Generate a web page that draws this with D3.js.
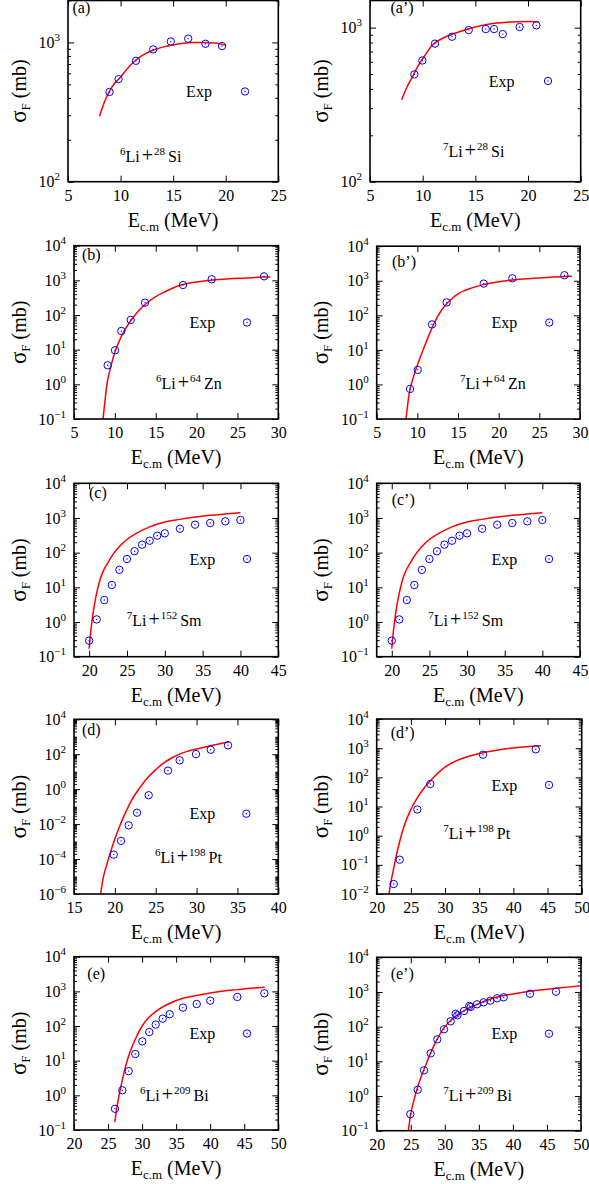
<!DOCTYPE html>
<html><head><meta charset="utf-8">
<script src="https://cdn.jsdelivr.net/npm/d3@7"></script>
<style>
body{margin:0;background:#fff}
svg{display:block}
text{font-family:"Liberation Serif","Times New Roman",serif;fill:#000}
</style>
</head><body>
<svg id="chart" width="589" height="1184"></svg>
<script>
// ---------- DATA ----------
// (a) 6Li + 28Si
const xTicks_a = [5, 10, 15, 20, 25];
const yExp_a = [2, 3];
const expE_a = [8.95, 9.81, 11.46, 13.1, 14.78, 16.43, 18.07, 19.65];
const expS_a = [441, 545, 738, 891, 1016, 1064, 978, 942];
const calE_a = [8, 8.5, 9, 9.5, 10, 10.5, 11, 12, 13, 14, 15, 16, 17, 18, 19, 20];
const calS_a = [295, 380, 455, 515, 565, 630, 695, 800, 875, 925, 958, 985, 997, 1000, 990, 955];

// (a') 7Li + 28Si
const xTicks_a2 = [5, 10, 15, 20, 25];
const yExp_a2 = [2, 3];
const expE_a2 = [9.21, 9.97, 11.17, 12.79, 14.37, 15.99, 16.78, 17.6, 19.2, 20.79];
const expS_a2 = [497, 612, 787, 873, 964, 979, 979, 908, 1009, 1035];
const calE_a2 = [8, 8.5, 9, 9.5, 10, 11, 12, 13, 14, 15, 16, 17, 18, 19, 20, 21];
const calS_a2 = [340, 410, 475, 555, 628, 780, 860, 915, 965, 1010, 1045, 1070, 1085, 1093, 1095, 1092];

// (b) 6Li + 64Zn
const xTicks_b = [5, 10, 15, 20, 25, 30];
const yExp_b = [-1, 0, 1, 2, 3, 4];
const expE_b = [9.12, 10.02, 10.79, 11.94, 13.69, 18.34, 21.85, 28.26];
const expS_b = [3.55, 9.6, 34.7, 72, 227, 735, 1072, 1306];
const calE_b = [8.55, 8.8, 9, 9.5, 10, 10.5, 11, 12, 13, 14, 15, 16, 18, 20, 22, 24, 26, 28, 29];
const calS_b = [0.1, 0.35, 0.9, 3.2, 8.5, 17, 30, 72, 140, 230, 340, 450, 720, 900, 1030, 1110, 1170, 1240, 1260];

// (b') 7Li + 64Zn
const xTicks_b2 = [5, 10, 15, 20, 25, 30];
const yExp_b2 = [-1, 0, 1, 2, 3, 4];
const expE_b2 = [9.1, 10.04, 11.8, 13.6, 18.16, 21.68, 28.08];
const expS_b2 = [0.74, 2.64, 54.6, 237, 828, 1178, 1445];
const calE_b2 = [8.6, 8.8, 9, 9.5, 10, 10.5, 11, 12, 13, 14, 15, 16, 18, 20, 22, 24, 26, 28, 29];
const calS_b2 = [0.1, 0.25, 0.55, 1.6, 3.6, 7.5, 15, 55, 145, 270, 420, 540, 760, 930, 1070, 1160, 1250, 1330, 1360];

// (c) 7Li + 152Sm
const xTicks_c = [20, 25, 30, 35, 40, 45];
const yExp_c = [-1, 0, 1, 2, 3, 4];
const expE_c = [20, 21, 22, 23, 24, 25, 26, 27, 28, 29, 30, 32, 34, 36, 38, 40];
const expS_c = [0.29, 1.19, 4.3, 11.7, 32, 65.6, 110, 170, 221, 309, 361, 490, 641, 716, 800, 875];
const calE_c = [20, 20.25, 20.5, 20.75, 21, 21.25, 21.5, 21.75, 22, 22.5, 23, 24, 25, 26, 28, 30, 32, 34, 36, 38, 40];
const calS_c = [0.17, 0.63, 1.66, 3.6, 6.9, 11.7, 18.2, 25.7, 33.9, 52.5, 79.4, 151, 240, 335, 556, 767, 912, 1060, 1200, 1300, 1410];

// (c') 7Li + 152Sm
const xTicks_c2 = [20, 25, 30, 35, 40, 45];
const yExp_c2 = [-1, 0, 1, 2, 3, 4];
const expE_c2 = [20, 21, 22, 23, 24, 25, 26, 27, 28, 29, 30, 32, 34, 36, 38, 40];
const expS_c2 = [0.29, 1.19, 4.3, 11.7, 32, 65.6, 110, 170, 221, 309, 361, 490, 641, 716, 800, 875];
const calE_c2 = [20, 20.25, 20.5, 20.75, 21, 21.25, 21.5, 21.75, 22, 22.5, 23, 24, 25, 26, 28, 30, 32, 34, 36, 38, 40];
const calS_c2 = [0.17, 0.63, 1.66, 3.6, 6.9, 11.7, 18.2, 25.7, 33.9, 52.5, 79.4, 151, 240, 335, 556, 767, 912, 1060, 1200, 1300, 1410];

// (d) 6Li + 198Pt
const xTicks_d = [15, 20, 25, 30, 35, 40];
const yExp_d = [-6, -4, -2, 0, 2, 4];
const expE_d = [19.86, 20.75, 21.69, 22.71, 24.14, 26.5, 27.93, 29.93, 31.73, 33.85];
const expS_d = [1.8e-4, 1.1e-3, 8.5e-3, 0.045, 0.45, 11.5, 45, 102, 182, 324];
const calE_d = [18.27, 18.5, 19, 19.5, 20, 20.5, 21, 22, 23, 24, 25, 26, 27, 28, 30, 32, 34];
const calS_d = [1e-6, 5.6e-6, 4.5e-5, 2.8e-4, 1.4e-3, 6.0e-3, 0.022, 0.21, 1.12, 4.5, 13, 32, 63, 105, 200, 330, 525];

// (d') 7Li + 198Pt
const xTicks_d2 = [20, 25, 30, 35, 40, 45, 50];
const yExp_d2 = [-2, -1, 0, 1, 2, 3, 4];
const expE_d2 = [22.49, 23.37, 25.95, 27.85, 35.56, 43.28];
const expS_d2 = [0.022, 0.15, 7.9, 59, 598, 912];
const calE_d2 = [21.8, 22, 22.5, 23, 23.5, 24, 25, 26, 27, 28, 30, 32, 34, 36, 38, 40, 42, 44];
const calS_d2 = [0.01, 0.02, 0.079, 0.28, 0.83, 2.1, 7.9, 21, 45, 83, 224, 400, 575, 740, 890, 1020, 1120, 1200];

// (e) 6Li + 209Bi
const xTicks_e = [20, 25, 30, 35, 40, 45, 50];
const yExp_e = [-1, 0, 1, 2, 3, 4];
const expE_e = [26.02, 27.1, 28.03, 29.0, 30.03, 31.06, 32.0, 33.02, 34.05, 36.0, 38.02, 40.01, 43.98, 47.95];
const expS_e = [0.41, 1.4, 5.0, 15.6, 36, 67, 110, 163, 219, 340, 432, 540, 689, 880];
const calE_e = [26, 26.3, 26.6, 27, 27.5, 28, 29, 30, 31, 32, 34, 36, 38, 40, 42, 44, 46, 48];
const calS_e = [0.17, 0.45, 0.95, 2.3, 6.0, 13.2, 41.7, 100, 178, 263, 447, 631, 759, 891, 1023, 1122, 1230, 1318];

// (e') 7Li + 209Bi
const xTicks_e2 = [20, 25, 30, 35, 40, 45, 50];
const yExp_e2 = [-1, 0, 1, 2, 3, 4];
const expE_e2 = [24.94, 26.02, 26.95, 27.93, 28.9, 29.88, 30.86, 31.6, 31.84, 32.82, 33.6, 33.8, 34.73, 35.71, 36.69, 37.67, 38.65, 42.51, 46.33];
const expS_e2 = [0.30, 1.52, 5.5, 17, 43, 84, 143, 235, 212, 283, 395, 369, 441, 504, 562, 658, 703, 892, 1023];
const calE_e2 = [24.64, 25, 25.5, 26, 26.5, 27, 28, 29, 30, 31, 32, 33, 34, 35, 36, 38, 40, 42, 44, 46, 48, 50];
const calS_e2 = [0.1, 0.3, 0.8, 1.8, 3.5, 6.2, 19, 48, 100, 160, 230, 300, 380, 460, 560, 740, 880, 1020, 1140, 1250, 1380, 1515];

// ---------- PANELS ----------
const panels = [
  {tag:"(a)",  proj:"6", tgt:"28",  el:"Si", xDom:[5,25],  yDom:[100,2000], xT:xTicks_a,  yE:yExp_a,  eE:expE_a,  eS:expS_a,  cE:calE_a,  cS:calS_a},
  {tag:"(a’)", proj:"7", tgt:"28",  el:"Si", xDom:[5,25],  yDom:[100,1500], xT:xTicks_a2, yE:yExp_a2, eE:expE_a2, eS:expS_a2, cE:calE_a2, cS:calS_a2},
  {tag:"(b)",  proj:"6", tgt:"64",  el:"Zn", xDom:[5,30],  yDom:[0.1,1e4],  xT:xTicks_b,  yE:yExp_b,  eE:expE_b,  eS:expS_b,  cE:calE_b,  cS:calS_b},
  {tag:"(b’)", proj:"7", tgt:"64",  el:"Zn", xDom:[5,30],  yDom:[0.1,1e4],  xT:xTicks_b2, yE:yExp_b2, eE:expE_b2, eS:expS_b2, cE:calE_b2, cS:calS_b2},
  {tag:"(c)",  proj:"7", tgt:"152", el:"Sm", xDom:[18,45], yDom:[0.1,1e4],  xT:xTicks_c,  yE:yExp_c,  eE:expE_c,  eS:expS_c,  cE:calE_c,  cS:calS_c},
  {tag:"(c’)", proj:"7", tgt:"152", el:"Sm", xDom:[18,45], yDom:[0.1,1e4],  xT:xTicks_c2, yE:yExp_c2, eE:expE_c2, eS:expS_c2, cE:calE_c2, cS:calS_c2},
  {tag:"(d)",  proj:"6", tgt:"198", el:"Pt", xDom:[15,40], yDom:[1e-6,1e4], xT:xTicks_d,  yE:yExp_d,  eE:expE_d,  eS:expS_d,  cE:calE_d,  cS:calS_d},
  {tag:"(d’)", proj:"7", tgt:"198", el:"Pt", xDom:[20,50], yDom:[1e-2,1e4], xT:xTicks_d2, yE:yExp_d2, eE:expE_d2, eS:expS_d2, cE:calE_d2, cS:calS_d2},
  {tag:"(e)",  proj:"6", tgt:"209", el:"Bi", xDom:[20,50], yDom:[0.1,1e4],  xT:xTicks_e,  yE:yExp_e,  eE:expE_e,  eS:expS_e,  cE:calE_e,  cS:calS_e},
  {tag:"(e’)", proj:"7", tgt:"209", el:"Bi", xDom:[20,50], yDom:[0.1,1e4],  xT:xTicks_e2, yE:yExp_e2, eE:expE_e2, eS:expS_e2, cE:calE_e2, cS:calS_e2}
];

// layout (pixels)
const layout = [
  {l:68,    r:278.3, t:0.5,   b:181.7,  tag:[72.5,13],    lab:[120,162],     key:[199,245,91.5],     yl:26},
  {l:370,   r:580.7, t:0.5,   b:181.7,  tag:[390.5,13],   lab:[443,157],     key:[501.7,548,81],     yl:328},
  {l:74,    r:278.3, t:245.7, b:419,    tag:[82,260],     lab:[156,389],     key:[202.3,247,322.5],  yl:26},
  {l:376.7, r:580,   t:246.2, b:419,    tag:[392,266.5],  lab:[460,389],     key:[504.3,549.3,322.5],yl:328},
  {l:74,    r:278.3, t:483.3, b:656.7,  tag:[89,498.3],   lab:[126.7,625.7], key:[202.3,247,559],    yl:26},
  {l:376.7, r:580,   t:483.3, b:656.7,  tag:[391.7,505],  lab:[428.3,625.7], key:[504.3,549,559],    yl:328},
  {l:74,    r:278.3, t:719.3, b:894,    tag:[82,735],     lab:[155,863.3],   key:[202.3,246.3,813.7],yl:26},
  {l:376.7, r:581.7, t:719,   b:894,    tag:[390.7,738.3],lab:[443.3,839],   key:[504.3,549,785],    yl:328},
  {l:74,    r:278.3, t:956.7, b:1130,   tag:[87.3,979.3], lab:[140,1100.7],  key:[202.3,247,1033.5], yl:26},
  {l:376.7, r:581,   t:957.3, b:1130.7, tag:[390.7,979.3],lab:[443.3,1100.7],key:[504.3,549,1033.7], yl:328}
];

const svg = d3.select("#chart");
const FONT = "Liberation Serif, Times New Roman, serif";

function styleAxis(g){
  g.attr("font-family", FONT).attr("font-size", 16);
  g.select(".domain").remove();
  g.selectAll(".tick line").attr("stroke", "#000").attr("stroke-width", 1);
  g.selectAll(".tick text").attr("fill", "#000");
}

panels.forEach((p, i) => {
  const L = layout[i];
  const x = d3.scaleLinear().domain(p.xDom).range([L.l, L.r]);
  const y = d3.scaleLog().domain(p.yDom).range([L.b, L.t]);
  const g = svg.append("g");

  const majors = p.yE.map(e => Math.pow(10, e));
  const lo = Math.floor(Math.log10(p.yDom[0])), hi = Math.ceil(Math.log10(p.yDom[1]));
  const minors = [];
  for (let k = lo; k <= hi; k++) for (let m = 1; m <= 9; m++) {
    const v = m * Math.pow(10, k);
    if (v < p.yDom[0] * 0.999 || v > p.yDom[1] * 1.001) continue;
    if (m === 1 && p.yE.includes(k)) continue;
    minors.push(v);
  }

  // clip
  const cid = "clip" + i;
  svg.append("clipPath").attr("id", cid).append("rect")
    .attr("x", L.l).attr("y", L.t).attr("width", L.r - L.l).attr("height", L.b - L.t);

  // axes
  const gx = g.append("g").attr("transform", `translate(0,${L.b})`)
    .call(d3.axisBottom(x).tickValues(p.xT).tickSize(-6).tickPadding(8).tickFormat(d3.format("d")));
  styleAxis(gx);
  const gxt = g.append("g").attr("transform", `translate(0,${L.t})`)
    .call(d3.axisTop(x).tickValues(p.xT).tickSize(-6).tickFormat(""));
  styleAxis(gxt);

  const gy = g.append("g").attr("transform", `translate(${L.l},0)`)
    .call(d3.axisLeft(y).tickValues(majors).tickSize(-6).tickPadding(8).tickFormat(""));
  styleAxis(gy);
  gy.selectAll(".tick text").each(function(d){
    const e = Math.round(Math.log10(d));
    const t = d3.select(this).text(null);
    t.append("tspan").text("10");
    t.append("tspan").attr("dy", -7).attr("font-size", 11).text(e < 0 ? "\u2212" + (-e) : String(e));
  });
  const gyr = g.append("g").attr("transform", `translate(${L.r},0)`)
    .call(d3.axisRight(y).tickValues(majors).tickSize(-6).tickFormat(""));
  styleAxis(gyr);
  const gym = g.append("g").attr("transform", `translate(${L.l},0)`)
    .call(d3.axisLeft(y).tickValues(minors).tickSize(-3).tickFormat(""));
  styleAxis(gym);
  const gymr = g.append("g").attr("transform", `translate(${L.r},0)`)
    .call(d3.axisRight(y).tickValues(minors).tickSize(-3).tickFormat(""));
  styleAxis(gymr);

  // calculated curve
  const line = d3.line().x(d => x(d[0])).y(d => y(d[1])).curve(d3.curveMonotoneX);
  g.append("path").datum(d3.zip(p.cE, p.cS))
    .attr("clip-path", `url(#${cid})`)
    .attr("fill", "none").attr("stroke", "#ff0000").attr("stroke-width", 1.5)
    .attr("d", line);

  // experimental points
  const pts = g.append("g").selectAll("g").data(d3.zip(p.eE, p.eS)).join("g")
    .attr("transform", d => `translate(${x(d[0])},${y(d[1])})`);
  pts.append("circle").attr("r", 3.7).attr("fill", "none").attr("stroke", "#0000ff").attr("stroke-width", 1);
  pts.append("circle").attr("r", 0.7).attr("fill", "#0000ff");

  // frame
  g.append("rect").attr("x", L.l).attr("y", L.t).attr("width", L.r - L.l).attr("height", L.b - L.t)
    .attr("fill", "none").attr("stroke", "#000").attr("stroke-width", 1.6);

  // key
  g.append("text").attr("x", L.key[0]).attr("y", L.key[2] + 5.5).attr("text-anchor", "middle")
    .attr("font-size", 16).text("Exp");
  const kg = g.append("g").attr("transform", `translate(${L.key[1]},${L.key[2]})`);
  kg.append("circle").attr("r", 3.7).attr("fill", "none").attr("stroke", "#0000ff").attr("stroke-width", 1);
  kg.append("circle").attr("r", 0.7).attr("fill", "#0000ff");

  // panel tag
  g.append("text").attr("x", L.tag[0]).attr("y", L.tag[1]).attr("font-size", 16).text(p.tag);

  // reaction label
  const rl = g.append("text").attr("x", L.lab[0]).attr("y", L.lab[1]).attr("font-size", 16);
  rl.append("tspan").attr("font-size", 11).attr("dy", -7).text(p.proj);
  rl.append("tspan").attr("dy", 7).text("Li");
  rl.append("tspan").attr("font-size", 20).attr("dx", 2).text("+");
  rl.append("tspan").attr("font-size", 11).attr("dy", -7).attr("dx", 1).text(p.tgt);
  rl.append("tspan").attr("dy", 7).attr("dx", 3).text(p.el);

  // x title
  const xt = g.append("text").attr("x", (L.l + L.r) / 2).attr("y", L.b + 45)
    .attr("text-anchor", "middle").attr("font-size", 20);
  xt.append("tspan").text("E");
  xt.append("tspan").attr("font-size", 13).attr("dy", 4).text("c.m");
  xt.append("tspan").attr("dy", -4).text(" (MeV)");

  // y title
  const yt = g.append("text").attr("transform", `translate(${L.yl},${(L.t + L.b) / 2}) rotate(-90)`)
    .attr("text-anchor", "middle").attr("font-size", 20);
  yt.append("tspan").attr("font-size", 23).text("σ");
  yt.append("tspan").attr("font-size", 13).attr("dy", 4).text("F");
  yt.append("tspan").attr("dy", -4).text(" (mb)");
});
</script>
</body></html>
